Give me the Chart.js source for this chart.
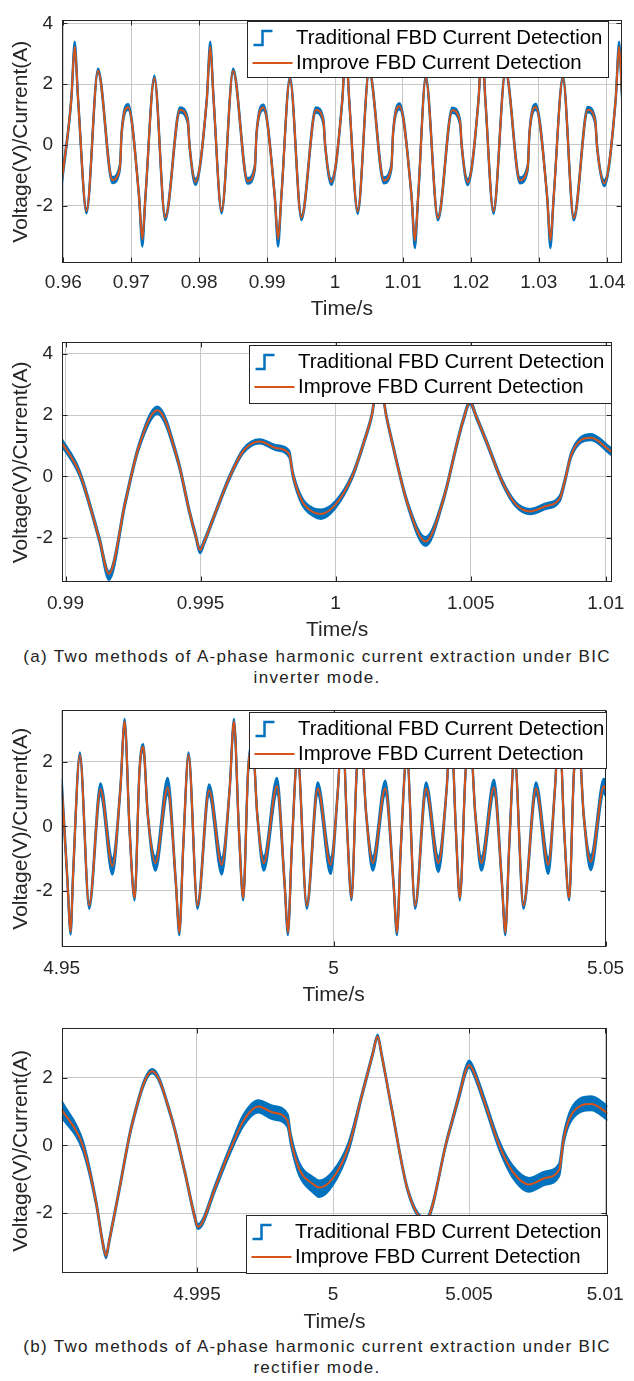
<!DOCTYPE html>
<html>
<head>
<meta charset="utf-8">
<script src="https://cdn.jsdelivr.net/npm/chart.js@4.4.1/dist/chart.umd.min.js"></script>
<style>
  body { margin: 0; background: #fff; width: 634px; height: 1381px; position: relative; overflow: hidden;
         font-family: 'Liberation Sans', Arial, sans-serif; }
  .plot { position: absolute; left: 0; width: 634px; }
  .caption { position: absolute; left: 0; width: 634px; text-align: center; font-size: 17px;
             line-height: 21px; letter-spacing: 1.3px; color: #222; }
</style>
</head>
<body>
<div class="plot" style="top:0;height:322px"><canvas id="c1" width="634" height="322"></canvas></div>
<div class="plot" style="top:322px;height:323px"><canvas id="c2" width="634" height="323"></canvas></div>
<div class="caption" style="top:646px">(a) Two methods of A-phase harmonic current extraction under BIC<br>inverter mode.</div>
<div class="plot" style="top:690px;height:318px"><canvas id="c3" width="634" height="318"></canvas></div>
<div class="plot" style="top:1008px;height:327px"><canvas id="c4" width="634" height="327"></canvas></div>
<div class="caption" style="top:1336px">(b) Two methods of A-phase harmonic current extraction under BIC<br>rectifier mode.</div>
<script>
// series names
var seriesNames = ['Traditional FBD Current Detection', 'Improve FBD Current Detection'];

// ---- plot 1 : inverter mode, 0.96 .. 1.04 s ----
var p1T = [
  0.9598, 0.96117, 0.96167, 0.96217, 0.96341, 0.9651, 0.96722, 0.96833, 0.96858, 0.96954,
  0.97113, 0.97162, 0.9721, 0.9734, 0.975, 0.97717, 0.97833, 0.97858, 0.97945,
  0.98112, 0.98162, 0.98212, 0.9833, 0.985, 0.98712, 0.9882, 0.98845, 0.98946,
  0.99111, 0.99161, 0.99211, 0.99336, 0.99505, 0.99718, 0.9983, 0.99855, 0.99945,
  1.00108, 1.00158, 1.00208, 1.00334, 1.00502, 1.00718, 1.0083, 1.00855, 1.00951,
  1.01125, 1.01175, 1.01225, 1.01336, 1.01515, 1.01725, 1.0184, 1.01865, 1.01953,
  1.02113, 1.02163, 1.02213, 1.02333, 1.0251, 1.02722, 1.02838, 1.02863, 1.02956,
  1.03121, 1.03171, 1.03221, 1.03355, 1.03515, 1.0372, 1.03832, 1.03857, 1.03964,
  1.04132, 1.04182, 1.0423];
var p1Impr = [
  -1.15, 1.5, 3.24, 1.5, -2.18, 2.44, -1.16, -0.73, 0.4, 1.24,
  -1.66, -3.1, -1.66, 2.2, -2.4, 1.15, 0.78, -0.03, -1.22,
  1.5, 3.24, 1.5, -2.18, 2.44, -1.19, -0.74, 0.4, 1.23,
  -1.66, -3.1, -1.66, 2.18, -2.4, 1.15, 0.76, -0.03, -1.22,
  1.5, 3.24, 1.5, -2.19, 2.43, -1.17, -0.72, 0.4, 1.27,
  -1.66, -3.15, -1.66, 2.2, -2.41, 1.14, 0.76, -0.03, -1.23,
  1.5, 3.24, 1.5, -2.19, 2.43, -1.17, -0.73, 0.4, 1.25,
  -1.66, -3.15, -1.66, 2.2, -2.41, 1.16, 0.76, -0.03, -1.26,
  1.5, 3.24, 1.4];
var p1TradHi = [
  -1.04, 1.57, 3.4, 1.57, -2.11, 2.51, -1.06, -0.64, 0.47, 1.34,
  -1.6, -3.04, -1.6, 2.28, -2.32, 1.24, 0.87, 0.04, -1.12,
  1.57, 3.4, 1.57, -2.11, 2.51, -1.09, -0.65, 0.47, 1.33,
  -1.6, -3.04, -1.6, 2.26, -2.32, 1.24, 0.85, 0.04, -1.12,
  1.57, 3.4, 1.57, -2.11, 2.5, -1.07, -0.63, 0.47, 1.37,
  -1.6, -3.09, -1.6, 2.28, -2.33, 1.23, 0.85, 0.04, -1.13,
  1.57, 3.4, 1.57, -2.11, 2.5, -1.07, -0.64, 0.47, 1.35,
  -1.6, -3.09, -1.6, 2.28, -2.33, 1.25, 0.85, 0.04, -1.16,
  1.57, 3.4, 1.47];
var p1TradLo = [
  -1.26, 1.43, 3.18, 1.43, -2.26, 2.37, -1.26, -0.82, 0.33, 1.15,
  -1.72, -3.35, -1.72, 2.12, -2.48, 1.06, 0.69, -0.1, -1.32,
  1.43, 3.18, 1.43, -2.26, 2.37, -1.28, -0.83, 0.33, 1.14,
  -1.72, -3.35, -1.72, 2.1, -2.48, 1.06, 0.67, -0.1, -1.32,
  1.43, 3.18, 1.43, -2.27, 2.36, -1.27, -0.81, 0.33, 1.17,
  -1.72, -3.4, -1.72, 2.12, -2.49, 1.05, 0.67, -0.1, -1.33,
  1.43, 3.18, 1.43, -2.27, 2.36, -1.27, -0.82, 0.33, 1.15,
  -1.72, -3.4, -1.72, 2.12, -2.49, 1.07, 0.67, -0.1, -1.36,
  1.43, 3.18, 1.33];
var p1XTicks = [0.96, 0.97, 0.98, 0.99, 1, 1.01, 1.02, 1.03, 1.04];
var p1YTicks = [-2, 0, 2, 4];

// ---- plot 2 : inverter mode, zoom 0.99 .. 1.01 s ----
var p2T = [
  0.98985, 0.99052, 0.99125, 0.99161, 0.99222, 0.9927, 0.9934, 0.99416, 0.99458, 0.99482,
  0.99498, 0.99513, 0.99549, 0.99609, 0.99658, 0.99719, 0.99779, 0.99828, 0.99842, 0.99876,
  0.99919, 0.99945, 1.0, 1.00061, 1.00109, 1.00133, 1.00161, 1.00187, 1.00206, 1.00267,
  1.00333, 1.004, 1.00448, 1.00473, 1.00497, 1.00521, 1.00558, 1.00618, 1.00667, 1.00721,
  1.00777, 1.0083, 1.00847, 1.00873, 1.00945, 1.0102];
var p2Impr = [
  1.12, 0.11, -2.04, -3.17, -0.81, 0.93, 2.16, 0.52, -1.12, -1.94,
  -2.4, -2.14, -1.32, 0.01, 0.83, 1.14, 0.93, 0.73, 0.05, -0.81,
  -1.17, -1.22, -0.91, 0.0, 1.24, 1.96, 3.3, 2.0, 1.24, -0.91,
  -2.12, -0.71, 1.03, 1.86, 2.42, 1.94, 1.14, -0.2, -0.91, -1.14,
  -0.97, -0.71, -0.2, 0.73, 1.26, 0.81];
var p2TradHi = [
  1.24, 0.2, -1.96, -3.1, -0.73, 1.01, 2.28, 0.6, -1.05, -1.87,
  -2.33, -2.07, -1.26, 0.07, 0.9, 1.21, 1.02, 0.84, 0.14, -0.7,
  -1.04, -1.08, -0.8, 0.07, 1.3, 2.02, 3.38, 2.06, 1.3, -0.84,
  -1.98, -0.64, 1.1, 1.93, 2.48, 2.0, 1.2, -0.14, -0.84, -1.06,
  -0.88, -0.62, -0.12, 0.81, 1.38, 0.92];
var p2TradLo = [
  1.02, 0.02, -2.12, -3.37, -0.89, 0.85, 2.04, 0.44, -1.19, -2.01,
  -2.5, -2.21, -1.38, -0.05, 0.76, 1.08, 0.86, 0.63, -0.04, -0.92,
  -1.3, -1.38, -1.02, -0.07, 1.18, 1.9, 3.22, 1.94, 1.18, -0.98,
  -2.26, -0.78, 0.96, 1.79, 2.36, 1.88, 1.08, -0.26, -0.98, -1.23,
  -1.06, -0.8, -0.28, 0.65, 1.18, 0.7];
var p2XTicks = [0.99, 0.995, 1, 1.005, 1.01];
var p2YTicks = [-2, 0, 2, 4];

// ---- plot 3 : rectifier mode, 4.95 .. 5.05 s ----
var p3T = [
  4.95, 4.95102, 4.95164, 4.95212, 4.95334, 4.95505, 4.95713, 4.95932, 4.96078, 4.96157,
  4.96248, 4.9634, 4.96431, 4.96498, 4.96582, 4.96723, 4.96948, 4.971, 4.97162, 4.97235,
  4.97332, 4.97496, 4.9771, 4.97942, 4.98088, 4.98167, 4.98258, 4.98337, 4.98428, 4.98513,
  4.98595, 4.98715, 4.98958, 4.99098, 4.99159, 4.99232, 4.99336, 4.99506, 4.99707, 4.99944,
  5.00079, 5.00158, 5.00249, 5.00328, 5.00425, 5.00511, 5.00598, 5.00719, 5.00949, 5.01101,
  5.01163, 5.01236, 5.01345, 5.01498, 5.01699, 5.01925, 5.02077, 5.02156, 5.02247, 5.0232,
  5.02428, 5.0252, 5.02604, 5.02716, 5.02948, 5.03094, 5.03155, 5.03228, 5.03325, 5.03489,
  5.03721, 5.03946, 5.04068, 5.04147, 5.04238, 5.0433, 5.0442, 5.04512, 5.04596, 5.04726,
  5.04969, 5.05];
var p3Impr = [
  1.3, -1.58, -3.28, -1.39, 2.21, -2.46, 1.15, -1.24, 1.15, 3.25,
  -0.12, -2.22, 1.74, 2.47, 0.37, -1.14, 1.2, -1.78, -3.3, -0.61,
  2.21, -2.46, 1.12, -1.19, 1.15, 3.25, -0.12, -2.22, 1.74, 2.47,
  0.37, -1.14, 1.25, -1.78, -3.3, -0.61, 2.21, -2.46, 1.17, -1.19,
  1.15, 3.25, -0.12, -2.22, 1.74, 2.47, 0.37, -1.14, 1.17, -1.78,
  -3.3, -0.61, 2.21, -2.46, 1.17, -1.14, 1.15, 3.25, -0.12, -2.22,
  1.74, 2.47, 0.37, -1.14, 1.2, -1.78, -3.3, -0.61, 2.21, -2.46,
  1.17, -1.19, 1.15, 3.25, -0.12, -2.22, 1.74, 2.47, 0.37, -1.1,
  1.25, 1.12];
var p3TradHi = [
  1.48, -1.5, -3.2, -1.31, 2.29, -2.37, 1.33, -1.0, 1.22, 3.33,
  -0.05, -2.14, 1.81, 2.55, 0.44, -0.94, 1.5, -1.7, -3.22, -0.54,
  2.29, -2.37, 1.3, -0.98, 1.22, 3.33, -0.05, -2.14, 1.81, 2.55,
  0.44, -0.94, 1.5, -1.7, -3.22, -0.54, 2.29, -2.37, 1.36, -0.98,
  1.22, 3.33, -0.05, -2.14, 1.81, 2.55, 0.44, -0.94, 1.42, -1.7,
  -3.22, -0.54, 2.29, -2.37, 1.36, -0.94, 1.22, 3.33, -0.05, -2.14,
  1.81, 2.55, 0.44, -0.94, 1.45, -1.7, -3.22, -0.54, 2.29, -2.37,
  1.36, -0.98, 1.22, 3.33, -0.05, -2.14, 1.81, 2.55, 0.44, -0.9,
  1.48, 1.32];
var p3TradLo = [
  1.12, -1.66, -3.36, -1.47, 2.13, -2.56, 0.95, -1.5, 1.08, 3.18,
  -0.19, -2.3, 1.67, 2.39, 0.3, -1.38, 0.98, -1.86, -3.38, -0.68,
  2.13, -2.56, 0.94, -1.5, 1.08, 3.18, -0.19, -2.3, 1.67, 2.39,
  0.3, -1.38, 1.02, -1.86, -3.38, -0.68, 2.13, -2.56, 0.98, -1.48,
  1.08, 3.18, -0.19, -2.3, 1.67, 2.39, 0.3, -1.38, 0.98, -1.86,
  -3.38, -0.68, 2.13, -2.56, 0.98, -1.42, 1.08, 3.18, -0.19, -2.3,
  1.67, 2.39, 0.3, -1.38, 1.0, -1.86, -3.38, -0.68, 2.13, -2.56,
  0.98, -1.48, 1.08, 3.18, -0.19, -2.3, 1.67, 2.39, 0.3, -1.36,
  1.05, 0.94];
var p3XTicks = [4.95, 5, 5.05];
var p3YTicks = [-2, 0, 2];

// ---- plot 4 : rectifier mode, zoom 4.99 .. 5.01 s ----
var p4T = [
  4.99003, 4.99081, 4.9913, 4.99153, 4.99166, 4.99178, 4.99214, 4.99262, 4.99336, 4.99406,
  4.99455, 4.99491, 4.99503, 4.99521, 4.99563, 4.99623, 4.99671, 4.99725, 4.99779, 4.99833,
  4.99845, 4.99875, 4.99929, 4.9995, 5.0, 5.00058, 5.00106, 5.00146, 5.00164, 5.00178,
  5.00215, 5.00275, 5.0034, 5.00419, 5.00467, 5.00485, 5.005, 5.00516, 5.00552, 5.00612,
  5.0066, 5.0072, 5.0078, 5.00831, 5.00847, 5.00877, 5.00949, 5.01011];
var p4Impr = [
  1.06, -0.02, -1.71, -2.84, -3.26, -2.8, -1.33, 0.64, 2.19, 0.83,
  -0.77, -2.08, -2.4, -2.25, -1.33, -0.11, 0.73, 1.15, 0.97, 0.73,
  0.17, -0.68, -1.15, -1.24, -0.96, -0.02, 1.48, 2.7, 3.22, 2.7,
  1.11, -1.33, -2.2, 0.17, 1.58, 2.14, 2.37, 2.19, 1.39, -0.02,
  -0.77, -1.15, -0.96, -0.72, 0.17, 0.92, 1.22, 0.94];
var p4TradHi = [
  1.3, 0.12, -1.64, -2.78, -3.2, -2.74, -1.27, 0.7, 2.25, 0.88,
  -0.72, -2.02, -2.33, -2.18, -1.25, -0.01, 0.9, 1.33, 1.17, 0.92,
  0.32, -0.5, -0.95, -1.04, -0.76, 0.1, 1.54, 2.75, 3.27, 2.75,
  1.16, -1.28, -2.15, 0.22, 1.66, 2.24, 2.5, 2.3, 1.5, 0.1,
  -0.6, -0.96, -0.77, -0.54, 0.3, 1.1, 1.45, 1.15];
var p4TradLo = [
  0.84, -0.16, -1.78, -2.9, -3.32, -2.86, -1.39, 0.58, 2.13, 0.78,
  -0.82, -2.14, -2.46, -2.32, -1.41, -0.21, 0.58, 0.97, 0.77, 0.55,
  0.03, -0.86, -1.4, -1.52, -1.16, -0.14, 1.42, 2.65, 3.17, 2.65,
  1.06, -1.38, -2.25, 0.12, 1.5, 2.06, 2.3, 2.1, 1.3, -0.14,
  -0.94, -1.36, -1.16, -0.9, 0.05, 0.75, 1.04, 0.74];
var p4XTicks = [4.995, 5, 5.005, 5.01];
var p4YTicks = [-2, 0, 2];

var FONT = "'Liberation Sans', Arial, sans-serif";
var INK = '#262626';
var BLUE = '#0072BD';
var ORANGE = '#D95319';
var GRID = '#c8c8c8';

function pts(t, v) {
  return t.map(function (x, i) { return { x: x, y: v[i] }; });
}

// MATLAB style box, inward ticks and framed legend
var matlabBox = {
  id: 'matlabBox',
  afterDraw: function (chart, args, opts) {
    var ctx = chart.ctx, a = chart.chartArea;
    var xs = chart.scales.x, ys = chart.scales.y;
    var l = Math.round(a.left) + 0.5, r = Math.round(a.right) - 0.5;
    var t = Math.round(a.top) + 0.5, b = Math.round(a.bottom) - 0.5;
    ctx.save();
    ctx.strokeStyle = INK;
    ctx.lineWidth = 1;
    ctx.beginPath();
    xs.ticks.forEach(function (tk) {
      var px = Math.round(xs.getPixelForValue(tk.value)) + 0.5;
      ctx.moveTo(px, b); ctx.lineTo(px, b - 5);
      ctx.moveTo(px, t); ctx.lineTo(px, t + 5);
    });
    ys.ticks.forEach(function (tk) {
      var py = Math.round(ys.getPixelForValue(tk.value)) + 0.5;
      ctx.moveTo(l, py); ctx.lineTo(l + 5, py);
      ctx.moveTo(r, py); ctx.lineTo(r - 5, py);
    });
    ctx.stroke();
    ctx.strokeRect(l, t, r - l, b - t);

    // legend
    var L = Math.round(a.right - opts.right - opts.w) + 0.5;
    var T = opts.top != null ? Math.round(a.top + opts.top) + 0.5
                             : Math.round(a.bottom - opts.bottom - opts.h) + 0.5;
    ctx.fillStyle = '#fff';
    ctx.fillRect(L, T, opts.w, opts.h);
    ctx.strokeStyle = INK;
    ctx.strokeRect(L, T, opts.w, opts.h);
    var y1 = T + 16.5, y2 = T + 41.5;
    ctx.strokeStyle = BLUE;
    ctx.lineWidth = 2.5;
    ctx.beginPath();
    ctx.moveTo(L + 6, y1 + 7); ctx.lineTo(L + 15, y1 + 7);
    ctx.lineTo(L + 15, y1 - 7); ctx.lineTo(L + 25, y1 - 7);
    ctx.stroke();
    ctx.strokeStyle = ORANGE;
    ctx.lineWidth = 2;
    ctx.beginPath();
    ctx.moveTo(L + 5, y2); ctx.lineTo(L + 45, y2);
    ctx.stroke();
    ctx.fillStyle = '#000';
    ctx.font = '20.4px ' + FONT;
    ctx.textBaseline = 'middle';
    ctx.textAlign = 'left';
    ctx.fillText(seriesNames[0], L + 48.5, y1);
    ctx.fillText(seriesNames[1], L + 48.5, y2);
    ctx.restore();
  }
};

function makePlot(id, c) {
  new Chart(document.getElementById(id), {
    type: 'line',
    data: {
      datasets: [
        { label: seriesNames[1], data: pts(c.t, c.impr), borderColor: ORANGE, borderWidth: 2, order: 0, clip: 0 },
        { label: seriesNames[0], data: pts(c.t, c.hi), borderColor: BLUE, backgroundColor: BLUE,
          borderWidth: 2.2, fill: '+1', order: 1, clip: 0 },
        { label: seriesNames[0], data: pts(c.t, c.lo), borderColor: BLUE, borderWidth: 2.2,
          fill: false, order: 2, clip: 0 }
      ]
    },
    options: {
      responsive: false,
      animation: false,
      devicePixelRatio: 1,
      layout: { padding: { top: c.top, right: c.right, left: 0, bottom: 0 } },
      elements: {
        point: { radius: 0 },
        line: { cubicInterpolationMode: 'monotone' }
      },
      plugins: {
        legend: { display: false },
        tooltip: { enabled: false },
        matlabBox: c.legend
      },
      scales: {
        x: {
          type: 'linear',
          min: c.xmin, max: c.xmax,
          afterBuildTicks: function (s) { s.ticks = c.xTicks.map(function (v) { return { value: v }; }); },
          afterFit: function (s) { s.height = c.xh; },
          grid: { color: GRID, drawTicks: false },
          border: { display: false },
          ticks: {
            autoSkip: false, maxRotation: 0, padding: c.xpad, color: INK,
            font: { family: FONT, size: 19 },
            callback: function (v) { return String(v); }
          },
          title: {
            display: true, text: 'Time/s', color: INK,
            font: { family: FONT, size: 21 },
            padding: { top: 0, bottom: c.tpad }
          }
        },
        y: {
          type: 'linear',
          min: c.ymin, max: c.ymax,
          afterBuildTicks: function (s) { s.ticks = c.yTicks.map(function (v) { return { value: v }; }); },
          afterFit: function (s) { s.width = c.yw; },
          grid: { color: GRID, drawTicks: false },
          border: { display: false },
          ticks: {
            padding: 9, color: INK,
            font: { family: FONT, size: 19 },
            callback: function (v) { return String(v); }
          },
          title: {
            display: true, text: 'Voltage(V)/Current(A)', color: INK,
            font: { family: FONT, size: 21 },
            padding: { top: 8.4, bottom: 0 }
          }
        }
      }
    },
    plugins: [matlabBox]
  });
}

makePlot('c1', {
  t: p1T, impr: p1Impr, hi: p1TradHi, lo: p1TradLo, xTicks: p1XTicks, yTicks: p1YTicks,
  xmin: 0.9598, xmax: 1.0422, ymin: -3.89, ymax: 4.1,
  top: 15, right: 7.3, yw: 62, xh: 59, xpad: 8.6, tpad: 0,
  legend: { right: 13.7, top: 1, w: 361, h: 56 }
});
makePlot('c2', {
  t: p2T, impr: p2Impr, hi: p2TradHi, lo: p2TradLo, xTicks: p2XTicks, yTicks: p2YTicks,
  xmin: 0.98987, xmax: 1.01024, ymin: -3.45, ymax: 4.37,
  top: 7.3, right: 11.7, yw: 62, xh: 62.7, xpad: 9.6, tpad: 2.4,
  legend: { right: 1.6, top: 3, w: 362, h: 58 }
});
makePlot('c3', {
  t: p3T, impr: p3Impr, hi: p3TradHi, lo: p3TradLo, xTicks: p3XTicks, yTicks: p3YTicks,
  xmin: 4.95, xmax: 5.05, ymin: -3.745, ymax: 3.595,
  top: 6.7, right: 25, yw: 61.7, xh: 61, xpad: 9.9, tpad: 0.4,
  legend: { right: 0, top: 1.3, w: 357, h: 56 }
});
makePlot('c4', {
  t: p4T, impr: p4Impr, hi: p4TradHi, lo: p4TradLo, xTicks: p4XTicks, yTicks: p4YTicks,
  xmin: 4.99003, xmax: 5.01008, ymin: -3.77, ymax: 3.45,
  top: 8.7, right: 16, yw: 61.7, xh: 61.7, xpad: 10.3, tpad: 0,
  legend: { right: 0, bottom: 0.6, w: 361, h: 58 }
});
</script>
</body>
</html>
